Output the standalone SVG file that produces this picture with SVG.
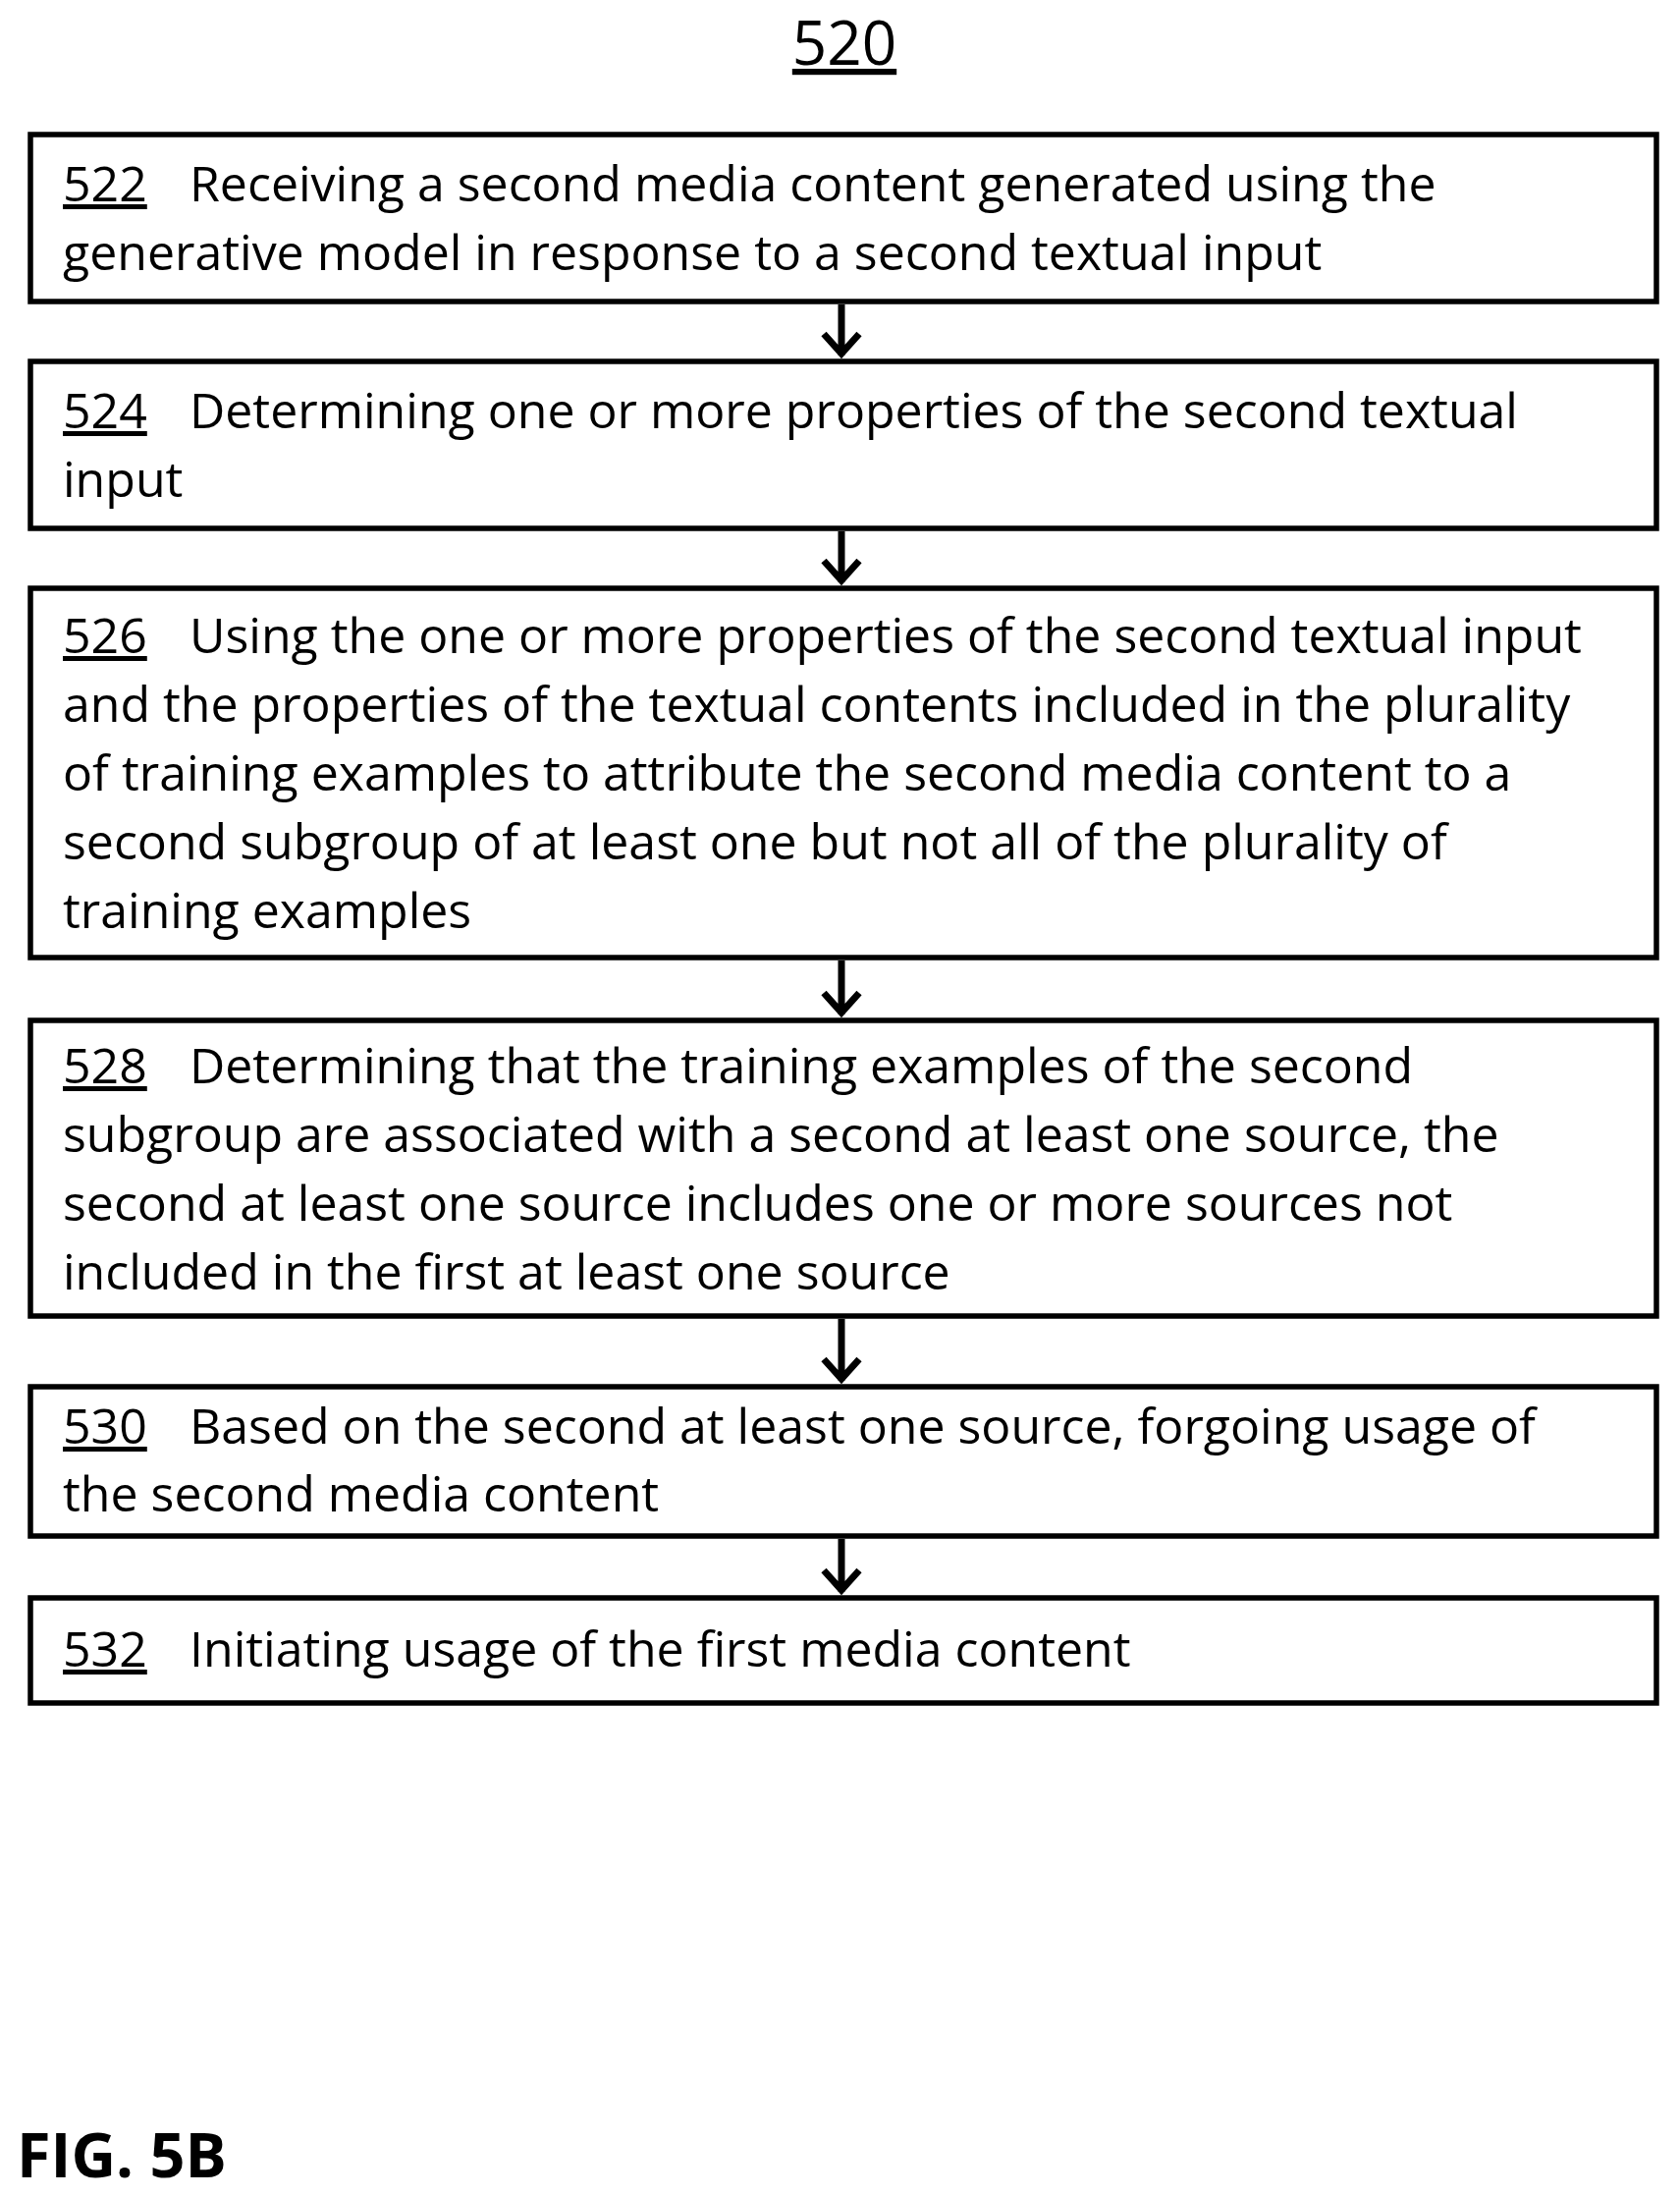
<svg xmlns="http://www.w3.org/2000/svg" width="1711" height="2236" viewBox="0 0 1711 2236">
<style>
.b{fill:#fff;stroke:#000;stroke-width:5.5}
text{font-family:"Open Sans","Liberation Sans",sans-serif;font-size:50px;fill:#000}
.n{text-decoration:underline}
.c{fill:none;stroke:#000;stroke-width:7}
</style>
<rect width="1711" height="2236" fill="#fff"/>
<text x="860" y="66" text-anchor="middle" class="n" style="font-size:62px">520</text>
<g id="n522"><rect class="b" x="31" y="137" width="1656" height="170"/>
<text x="64" y="205"><tspan class="n">522</tspan><tspan x="193">Receiving a second media content generated using the</tspan></text>
<text x="64" y="275">generative model in response to a second textual input</text></g>
<g id="n524"><rect class="b" x="31" y="368" width="1656" height="170"/>
<text x="64" y="436"><tspan class="n">524</tspan><tspan x="193">Determining one or more properties of the second textual</tspan></text>
<text x="64" y="506">input</text></g>
<g id="n526"><rect class="b" x="31" y="599" width="1656" height="376"/>
<text x="64" y="665"><tspan class="n">526</tspan><tspan x="193">Using the one or more properties of the second textual input</tspan></text>
<text x="64" y="735">and the properties of the textual contents included in the plurality</text>
<text x="64" y="805">of training examples to attribute the second media content to a</text>
<text x="64" y="875">second subgroup of at least one but not all of the plurality of</text>
<text x="64" y="945">training examples</text></g>
<g id="n528"><rect class="b" x="31" y="1039" width="1656" height="301"/>
<text x="64" y="1103"><tspan class="n">528</tspan><tspan x="193">Determining that the training examples of the second</tspan></text>
<text x="64" y="1173">subgroup are associated with a second at least one source, the</text>
<text x="64" y="1243">second at least one source includes one or more sources not</text>
<text x="64" y="1313">included in the first at least one source</text></g>
<g id="n530"><rect class="b" x="31" y="1412" width="1656" height="152"/>
<text x="64" y="1470"><tspan class="n">530</tspan><tspan x="193">Based on the second at least one source, forgoing usage of</tspan></text>
<text x="64" y="1539">the second media content</text></g>
<g id="n532"><rect class="b" x="31" y="1627" width="1656" height="107"/>
<text x="64" y="1697"><tspan class="n">532</tspan><tspan x="193">Initiating usage of the first media content</tspan></text></g>
<g id="connectors">
<path class="c" d="M857 310V362M839 340L857 360L875 340"/>
<path class="c" d="M857 541V593M839 571L857 591L875 571"/>
<path class="c" d="M857 978V1033M839 1011L857 1031L875 1011"/>
<path class="c" d="M857 1343V1406M839 1384L857 1404L875 1384"/>
<path class="c" d="M857 1567V1621M839 1599L857 1619L875 1599"/>
</g>
<text x="17" y="2217" style="font-size:63px;font-weight:bold">FIG. 5B</text>
</svg>
